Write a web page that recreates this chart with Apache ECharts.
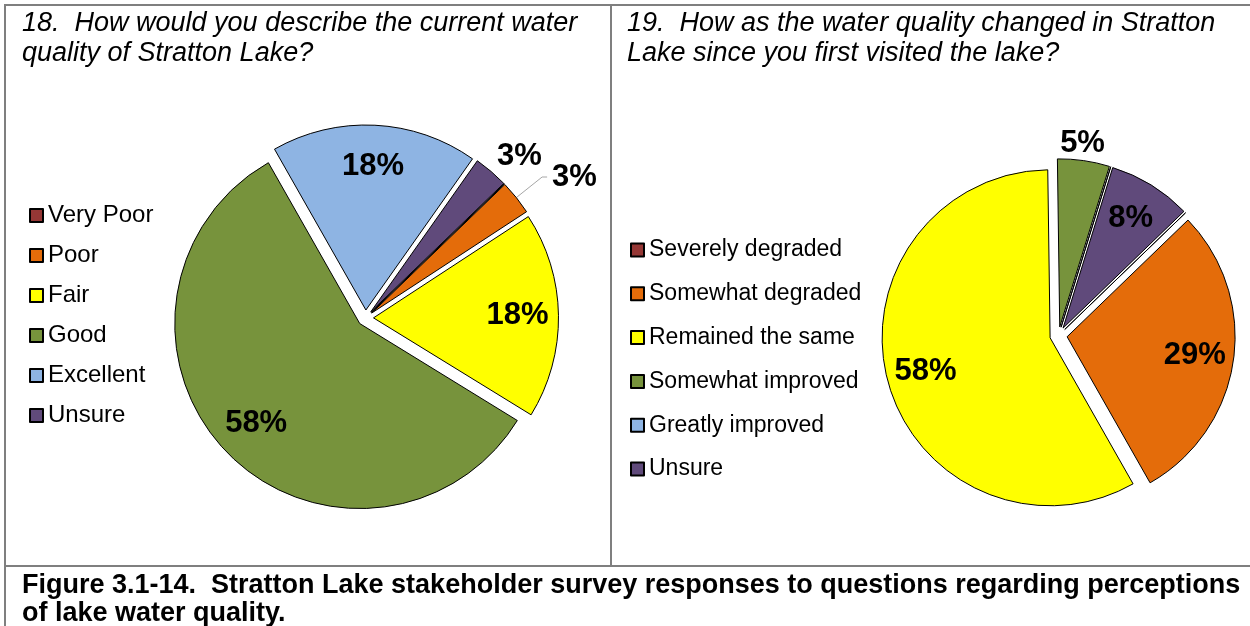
<!DOCTYPE html>
<html>
<head>
<meta charset="utf-8">
<title>Stratton Lake water quality survey</title>
<script src="https://cdn.jsdelivr.net/npm/echarts@6/dist/echarts.min.js"></script>
<style>
    html, body { margin: 0; padding: 0; background: #fff; }
    #main { width: 1250px; height: 626px; }
</style>
</head>
<body>
<div id="main"></div>
<script>
// Q18: current water quality (percent of responses)
const q18Names = ['Very Poor', 'Poor', 'Fair', 'Good', 'Excellent', 'Unsure'];
const q18Values = [0, 3, 18, 58, 18, 3];

// Q19: change since first visit (percent of responses)
const q19Names = ['Severely degraded', 'Somewhat degraded', 'Remained the same', 'Somewhat improved', 'Greatly improved', 'Unsure'];
const q19Values = [0, 29, 58, 5, 0, 8];

const palette = ['#953735', '#E46C0A', '#FFFF00', '#77933C', '#8EB4E3', '#604A7B'];
const font = "'Liberation Sans', Arial, sans-serif";

// small slices get their label outside the pie
const outsideLabels = {
    q18: {
        'Unsure': { length: 20, length2: 0, dist: -7, line: false },
        'Poor': { length: 33, length2: 5, dist: 5, line: true }
    },
    q19: {
        'Somewhat improved': { length: 17, length2: 0, dist: -26, line: false }
    }
};

function sliceData(names, values) {
    return names.map((n, i) => ({
        name: n,
        value: values[i],
        selected: true,
        itemStyle: { color: palette[i] }
    }));
}

function labelData(names, values, outside) {
    return names.map((n, i) => {
        let item = { name: n, value: values[i], selected: true };
        let o = outside[n];
        if (!values[i]) {
            item.label = { show: false };
        } else if (o) {
            item.label = { position: 'outside', distanceToLabelLine: o.dist };
            item.labelLine = { show: o.line, length: o.length, length2: o.length2 };
        }
        return item;
    });
}

function pieSeries(center, radius, offset, data) {
    return {
        type: 'pie',
        center: center,
        radius: radius,
        startAngle: 44,
        clockwise: true,
        selectedMode: 'multiple',
        selectedOffset: offset,
        avoidLabelOverlap: false,
        animation: false,
        emphasis: { disabled: true },
        data: data
    };
}

let myChart = echarts.init(document.getElementById('main'));

let titleStyle = {
    fontFamily: font, fontSize: 27, fontStyle: 'italic', fontWeight: 'normal',
    color: '#000', lineHeight: 30
};
let legendBase = {
    orient: 'vertical',
    icon: 'rect',
    itemWidth: 13,
    itemHeight: 13,
    padding: 0,
    selectedMode: false
};
let frame = { stroke: '#7F7F7F', lineWidth: 2 };

// the two pies: slices first, then a transparent ring that only carries the labels
let series = [];
let left = pieSeries([365.5, 318], [0, 185], 8, sliceData(q18Names, q18Values));
let right = pieSeries([1058.5, 335.5], [0, 168], 8.7, sliceData(q19Names, q19Values));
[left, right].forEach(s => {
    s.itemStyle = { borderColor: '#000', borderWidth: 1 };
    s.label = { show: false };
    s.labelLine = { show: false };
    series.push(s);
});
let leftLab = pieSeries([365.5, 318], [97, 185], 8, labelData(q18Names, q18Values, outsideLabels.q18));
let rightLab = pieSeries([1058.5, 335.5], [84, 168], 8.7, labelData(q19Names, q19Values, outsideLabels.q19));
[leftLab, rightLab].forEach(s => {
    s.silent = true;
    s.itemStyle = { color: 'rgba(0,0,0,0)', borderWidth: 0 };
    s.label = {
        show: true, position: 'inside', formatter: '{c}%',
        fontFamily: font, fontSize: 31, fontWeight: 'bold', color: '#000'
    };
    s.labelLine = { lineStyle: { color: '#A6A6A6', width: 1 } };
    series.push(s);
});

option = {
    backgroundColor: '#fff',
    title: [
        {
            text: '18.  How would you describe the current water\nquality of Stratton Lake?',
            left: 22, top: 8, padding: 0, textStyle: titleStyle
        },
        {
            text: '19.  How as the water quality changed in Stratton\nLake since you first visited the lake?',
            left: 627, top: 8, padding: 0, textStyle: titleStyle
        },
        {
            text: 'Figure 3.1-14.  Stratton Lake stakeholder survey responses to questions regarding perceptions\nof lake water quality.',
            left: 22, top: 572, padding: 0,
            textStyle: { fontFamily: font, fontSize: 27, fontWeight: 'bold', color: '#000', lineHeight: 28 }
        }
    ],
    legend: [
        Object.assign({}, legendBase, {
            data: q18Names, left: 29, top: 203.5, itemGap: 16,
            textStyle: { fontFamily: font, fontSize: 24, color: '#000', lineHeight: 24 }
        }),
        Object.assign({}, legendBase, {
            data: q19Names, left: 630, top: 238.5, itemGap: 20.8,
            textStyle: { fontFamily: font, fontSize: 23, color: '#000', lineHeight: 23 }
        })
    ],
    graphic: [
        { type: 'line', shape: { x1: 4, y1: 5, x2: 1250, y2: 5 }, style: frame },
        { type: 'line', shape: { x1: 5, y1: 4, x2: 5, y2: 626 }, style: frame },
        { type: 'line', shape: { x1: 611, y1: 5, x2: 611, y2: 566 }, style: frame },
        { type: 'line', shape: { x1: 4, y1: 566, x2: 1250, y2: 566 }, style: frame }
    ],
    series: series
};

myChart.setOption(option);
</script>
</body>
</html>
